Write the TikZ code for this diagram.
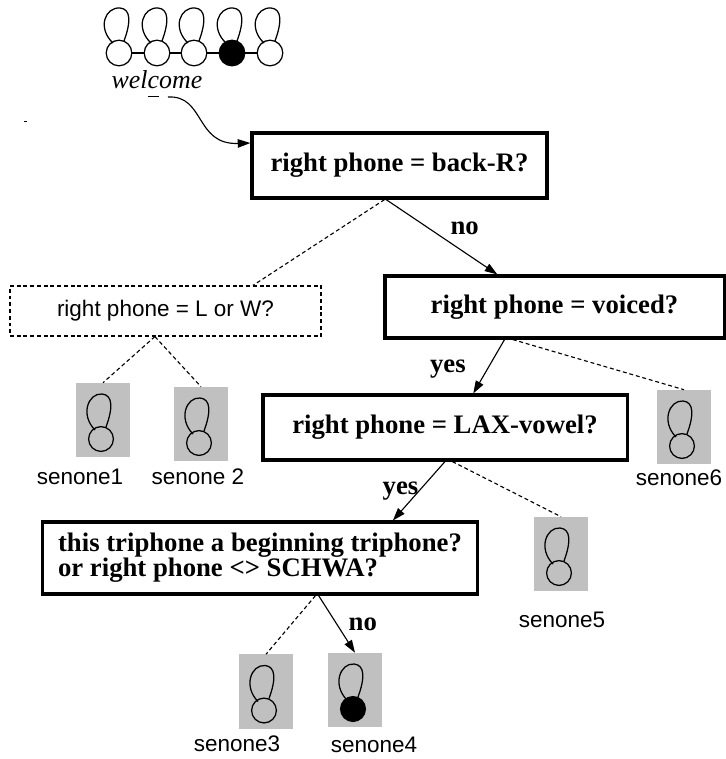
\documentclass[tikz,border=0pt]{standalone}
\usepackage{fontspec}
\setmainfont{Liberation Serif}
\setsansfont{Liberation Sans}
\usetikzlibrary{calc,arrows.meta}
\definecolor{senonegray}{RGB}{192,192,192}
\tikzset{
  question/.style={draw, line width=2.2pt, inner sep=2pt, font=\fontsize{19}{18}\selectfont\bfseries},
  weakquestion/.style={draw, line width=0.8pt, dash pattern=on 2.8pt off 2pt, font=\sffamily\fontsize{16}{19}\selectfont},
  senone/.style={fill=senonegray, minimum width=1.35cm, minimum height=1.85cm, inner sep=0pt},
  sename/.style={font=\sffamily\fontsize{16}{19}\selectfont, inner sep=1pt},
  state/.style={circle, draw, line width=0.9pt, minimum size=0.64cm, inner sep=0pt, fill=white},
  answer/.style={font=\fontsize{19}{18}\selectfont\bfseries, inner sep=1pt},
  branch/.style={-{Triangle[length=9pt,width=6pt]}, line width=0.8pt},
  pruned/.style={line width=0.8pt, dash pattern=on 2.8pt off 2pt},
  glyph/.style={line width=0.9pt},
  pics/selfloop/.style={code={
    \draw[glyph] (-6,10) .. controls (-22,25) and (-14,46) .. (1,45)
      .. controls (12,44) and (12,31) .. (5,12);}},
  pics/senoneglyph/.style={code={
    \draw[glyph, shift={(-2,-19)}] (-6,9) .. controls (-21,24) and (-13,46) .. (1,45)
      .. controls (12,44) and (12,31) .. (5,12);
    \draw[glyph, fill=#1] (-2,-19) circle (0.31cm);}}
}

\begin{document}
\begin{tikzpicture}[x=0.025cm, y=0.025cm]
  \useasboundingbox (0,0) rectangle (726,-759);

  % HMM of the word
  \node[state] (st1) at (119,-53) {};
  \node[state] (st2) at (157,-53) {};
  \node[state] (st3) at (194,-53) {};
  \node[state, fill=black] (st4) at (232,-53) {};
  \node[state] (st5) at (270,-53) {};
  \draw[glyph] (st1) -- (st2) -- (st3) -- (st4) -- (st5);
  \pic at (st1) {selfloop};
  \pic at (st2) {selfloop};
  \pic at (st3) {selfloop};
  \pic at (st4) {selfloop};
  \pic at (st5) {selfloop};
  \node[font=\itshape\fontsize{18.4}{22}\selectfont] (word) at (157,-84) {wel\underline{\vphantom{g}c}ome};
  \coordinate (wstart) at (168,-97);
  \draw[line width=0.6pt] (24,-121) -- (27,-121);

  % questions
  \node[question, minimum width=7.375cm, minimum height=1.625cm] (b1) at (399.5,-165.5) {right phone = back-R?};
  \node[weakquestion, minimum width=7.775cm, minimum height=1.25cm] (lw) at (165.5,-311) {right phone = L or W?};
  \node[question, minimum width=8.475cm, minimum height=1.55cm] (b2) at (554.5,-307) {right phone = voiced?};
  \node[question, minimum width=9.1cm, minimum height=1.625cm] (b3) at (445,-427.5) {right phone = LAX-vowel?};
  \node[question, minimum width=10.85cm, minimum height=1.8cm, align=left] (b4) at (260,-558)
    {this triphone a beginning triphone?\\or right phone <> SCHWA?};

  % senones
  \node[senone] (s1) at (103,-420) {};
  \node[senone] (s2) at (201,-424) {};
  \node[senone] (s6) at (684,-427) {};
  \node[senone] (s5) at (561,-554) {};
  \node[senone] (s3) at (266,-691.5) {};
  \node[senone] (s4) at (355,-690) {};
  \pic at (s1) {senoneglyph=none};
  \pic at (s2) {senoneglyph=none};
  \pic at (s6) {senoneglyph=none};
  \pic at (s5) {senoneglyph=none};
  \pic at (s3) {senoneglyph=none};
  \pic at (s4) {senoneglyph=black};
  \node[sename] (n1) at (80,-477) {senone1};
  \node[sename] (n2) at (198,-477) {senone 2};
  \node[sename] (n6) at (679,-478) {senone6};
  \node[sename] (n5) at (562,-620) {senone5};
  \node[sename] (n3) at (237,-744) {senone3};
  \node[sename] (n4) at (374,-745) {senone4};

  % branches
  \draw[branch] (wstart) .. controls (205,-95) and (195,-145) .. ([yshift=0.5625cm]b1.west);
  \draw[pruned] ($(b1.south west)!0.45!(b1.south east)$) -- ($(lw.north west)!0.78!(lw.north east)$);
  \draw[branch] ($(b1.south west)!0.455!(b1.south east)$) -- node[answer, xshift=0.575cm, yshift=0.225cm] (no1) {no}
    ($(b2.north west)!0.333!(b2.north east)$);
  \draw[pruned] ($(lw.south west)!0.466!(lw.south east)$) -- (s1.north);
  \draw[pruned] ($(lw.south west)!0.466!(lw.south east)$) -- (s2.north);
  \draw[branch] ($(b2.south west)!0.354!(b2.south east)$) -- node[answer, xshift=-1.025cm, yshift=-0.06cm] (yes1) {yes}
    ($(b3.north west)!0.577!(b3.north east)$);
  \draw[pruned] ($(b2.south west)!0.378!(b2.south east)$) -- (s6.north);
  \draw[branch] (b3.south) -- node[answer, xshift=-0.46cm] (yes2) {yes}
    ($(b4.north west)!0.804!(b4.north east)$);
  \draw[pruned] ($(b3.south west)!0.52!(b3.south east)$) -- (s5.north);
  \draw[pruned] ($(b4.south west)!0.627!(b4.south east)$) -- (s3.north);
  \draw[branch] ($(b4.south west)!0.634!(b4.south east)$) -- node[answer, xshift=0.65cm] (no2) {no} (s4.north);
\end{tikzpicture}
\end{document}
